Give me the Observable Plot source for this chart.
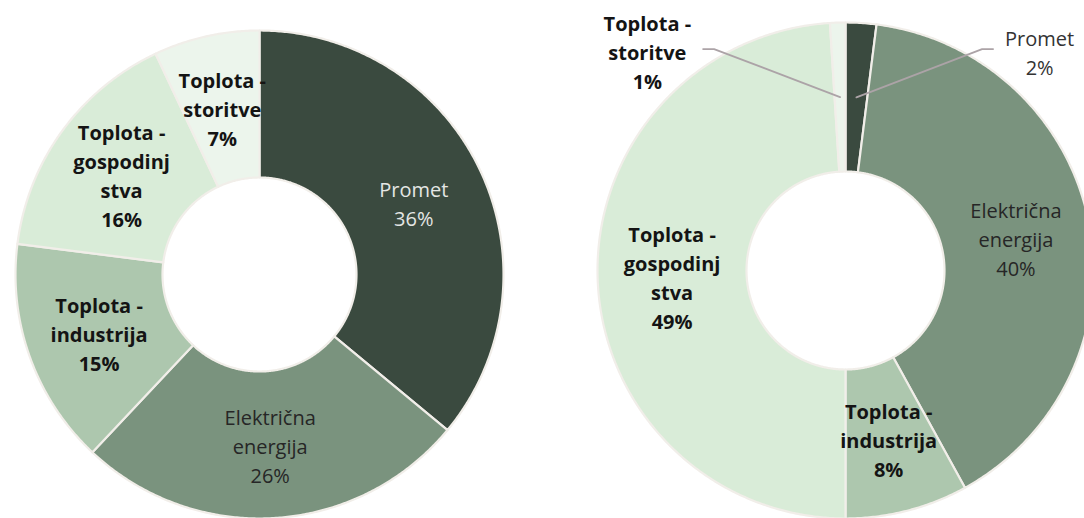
<!DOCTYPE html>
<html><head><meta charset="utf-8">
<script src="https://cdn.jsdelivr.net/npm/d3@7"></script>
<script src="https://cdn.jsdelivr.net/npm/@observablehq/plot@0.6"></script>
<style>
body{margin:0;background:#fff;overflow:hidden}
#chart svg{overflow:hidden;display:block}
</style>
</head><body><div id="chart"></div>
<script>
// ---- data ----
const categories = ["Promet", "Električna energija", "Toplota - industrija", "Toplota - gospodinjstva", "Toplota - storitve"];
const labelLines = [["Promet"], ["Električna", "energija"], ["Toplota -", "industrija"], ["Toplota -", "gospodinj", "stva"], ["Toplota -", "storitve"]];
const leftValues = [36, 26, 15, 16, 7];
const rightValues = [2, 40, 8, 49, 1];
const colors = ["#3a4a3f", "#7a937e", "#adc7ae", "#d9ecd8", "#ecf5ec"];
const boldLabel = [false, false, true, true, true];

// ---- layout ----
const W = 1084, H = 518;
const donuts = [
  {name: "L", values: leftValues, cx: 259, cy: 274, r0: 97, r1: 244},
  {name: "R", values: rightValues, cx: 845, cy: 270, r0: 99, r1: 248}
];
const FS = 20, LH = 29, FONT = "'Open Sans', Lato, sans-serif";
const ctx = document.createElement("canvas").getContext("2d");
function textWidth(lines, bold) {
  ctx.font = (bold ? "bold " : "") + FS + "px " + FONT;
  return d3.max(lines, s => ctx.measureText(s).width);
}

const pie = d3.pie().sort(null).value(d => d.value);
const polyPts = [], labels = [], leaders = [];
for (const g of donuts) {
  const total = d3.sum(g.values);
  const arcs = pie(g.values.map((v, i) => ({value: v, i})));
  for (const a of arcs) {
    const i = a.data.i, key = g.name + i;
    const n = Math.max(2, Math.ceil((a.endAngle - a.startAngle) / 0.008));
    for (let k = 0; k <= n; k++) {
      const t = a.startAngle + (a.endAngle - a.startAngle) * k / n;
      polyPts.push({key, cat: categories[i], x: g.cx + g.r1 * Math.sin(t), y: g.cy - g.r1 * Math.cos(t)});
    }
    for (let k = n; k >= 0; k--) {
      const t = a.startAngle + (a.endAngle - a.startAngle) * k / n;
      polyPts.push({key, cat: categories[i], x: g.cx + g.r0 * Math.sin(t), y: g.cy - g.r0 * Math.cos(t)});
    }
    const mid = (a.startAngle + a.endAngle) / 2;
    const rm = (g.r0 + g.r1) / 2;
    const c = {x: g.cx + rm * Math.sin(mid), y: g.cy - rm * Math.cos(mid)};
    const pct = Math.round(100 * a.data.value / total) + "%";
    const lines = labelLines[i].concat([pct]);
    const text = lines.join("\n");
    const small = a.data.value / total < 0.03;
    if (!small) {
      let fill = boldLabel[i] ? "#141414" : "#262626";
      if (i === 0) fill = "#e4e6e4";
      labels.push({x: c.x, y: c.y, text, bold: boldLabel[i], fill});
    } else {
      const side = mid < Math.PI ? 1 : -1;
      const la = side * 41.5 * Math.PI / 180, rl = g.r1 + 45;
      const L = {x: g.cx + rl * Math.sin(la) - (side < 0 ? 4 : 0), y: g.cy - rl * Math.cos(la)};
      labels.push({x: L.x, y: L.y, text, bold: boldLabel[i], fill: boldLabel[i] ? "#141414" : "#333333"});
      const half = textWidth(lines, boldLabel[i]) / 2;
      const endX = L.x - side * (half + 12), elbowX = endX - side * 11, ly = L.y - 2;
      leaders.push({key: key, x: c.x, y: c.y}, {key, x: elbowX, y: ly}, {key, x: endX, y: ly});
    }
  }
}

const textMarks = [];
const groups = d3.groups(labels, d => d.bold + "|" + d.fill);
for (const [k, arr] of groups) {
  textMarks.push(Plot.text(arr, {
    x: "x", y: "y", text: "text", fill: arr[0].fill,
    fontWeight: arr[0].bold ? "bold" : "normal",
    fontSize: FS, lineHeight: LH / FS, fontFamily: FONT
  }));
}

const chart = Plot.plot({
  width: W, height: H, margin: 0,
  x: {type: "linear", domain: [0, W], range: [0, W], axis: null},
  y: {type: "linear", domain: [0, H], range: [0, H], axis: null},
  color: {domain: categories, range: colors},
  marks: [
    Plot.line(polyPts, {x: "x", y: "y", z: "key", fill: "cat", stroke: "#f1eee9", strokeWidth: 2.2, curve: "linear-closed"}),
    Plot.line(leaders, {x: "x", y: "y", z: "key", stroke: "#aca3a7", strokeWidth: 1.8}),
    ...textMarks
  ]
});
document.getElementById("chart").appendChild(chart);
</script>
</body></html>
